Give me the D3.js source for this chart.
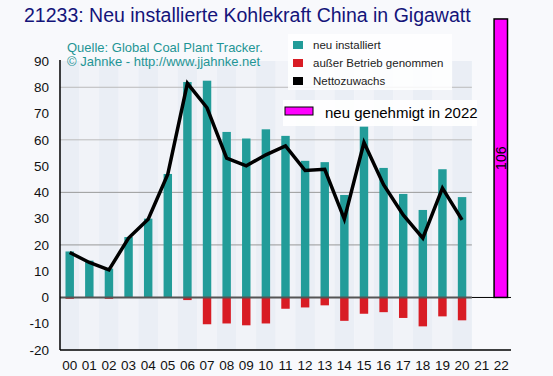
<!DOCTYPE html>
<html>
<head>
<meta charset="utf-8">
<script src="https://cdn.jsdelivr.net/npm/d3@7"></script>
<style>
  html, body { margin: 0; padding: 0; background: #f8f9fc; }
  svg { display: block; font-family: "Liberation Sans", Arial, sans-serif; }
</style>
</head>
<body>
<div id="chart"></div>
<script>
// Werte in GW
const years = ["00","01","02","03","04","05","06","07","08","09","10",
               "11","12","13","14","15","16","17","18","19","20","21","22"];
const installed = [17.5, 14, 11, 23, 30, 47, 82, 82.5, 63, 60.5, 64,
                   61.5, 52, 51.5, 39, 65, 49.3, 39.4, 33.3, 48.8, 38.2];
const retired = [-0.5, 0, -0.5, 0, -0.2, 0, -1, -10.2, -9.9, -10.6, -9.9,
                 -4.3, -3.8, -3, -8.9, -6.2, -5.6, -7.8, -11, -7.2, -8.7];
const net = [17.1, 13.3, 10.5, 22.6, 29.8, 46.9, 81.5, 72.2, 53, 50.1, 54.3,
             57.7, 48.3, 48.8, 29.8, 59, 42.9, 31.4, 22.6, 41.6, 29.5];
const approved = [{ year: "22", value: 106 }];
const yTicks = [-20, -10, 0, 10, 20, 30, 40, 50, 60, 70, 80, 90];
const gridTicks = [20, 40, 60, 80];
const legendItems = [
  { label: "neu installiert", color: "#229c99" },
  { label: "außer Betrieb genommen", color: "#d81c24" },
  { label: "Nettozuwachs", color: "#000" }
];

const width = 553, height = 376;
const svg = d3.select("#chart").append("svg")
  .attr("width", width).attr("height", height);

const x = d3.scaleBand().domain(years).range([60, 511]).paddingInner(0.57).paddingOuter(0.28);
const y = d3.scaleLinear().domain([-20, 90]).range([350, 61]);
const step = x.step();
const gap = (step - x.bandwidth()) / 2;
const plotRight = x(years[20]) + x.bandwidth() + gap;

// gestreifter Hintergrund
svg.append("g").selectAll("rect")
  .data(years.slice(0, 21))
  .join("rect")
  .attr("x", d => x(d) - gap)
  .attr("y", y(90))
  .attr("width", step)
  .attr("height", y(-20) - y(90))
  .attr("fill", (d, i) => i % 2 === 0 ? "#eaeef5" : "#f1f3f8");

// Gitterlinien
svg.append("g").selectAll("line")
  .data(gridTicks)
  .join("line")
  .attr("x1", 60).attr("x2", plotRight)
  .attr("y1", d => y(d)).attr("y2", d => y(d))
  .attr("stroke", d => d >= 60 ? "#bbb" : "#999")
  .attr("stroke-width", 1);

// Quelle
svg.append("text")
  .attr("x", 67).attr("y", 52)
  .attr("fill", "#1f9595").style("font-size", "13px")
  .text("Quelle: Global Coal Plant Tracker.");
svg.append("text")
  .attr("x", 67).attr("y", 66)
  .attr("fill", "#1f9595").style("font-size", "13px")
  .text("© Jahnke - http://www.jjahnke.net");

// Legende
svg.append("rect")
  .attr("x", 288).attr("y", 34).attr("width", 164).attr("height", 56)
  .attr("fill", "#fff").attr("opacity", 0.85);
const leg = svg.append("g").selectAll("g")
  .data(legendItems)
  .join("g")
  .attr("transform", (d, i) => `translate(293,${41 + i * 18})`);
leg.append("rect")
  .attr("width", 10).attr("height", 8)
  .attr("fill", d => d.color);
leg.append("text")
  .attr("x", 20).attr("y", 8)
  .attr("fill", "#222").style("font-size", "11.5px")
  .text(d => d.label);

// installiert
svg.append("g").selectAll("rect")
  .data(installed)
  .join("rect")
  .attr("x", (d, i) => x(years[i]))
  .attr("y", d => y(d))
  .attr("width", x.bandwidth())
  .attr("height", d => y(0) - y(d))
  .attr("fill", "#229c99");

// außer Betrieb
svg.append("g").selectAll("rect")
  .data(retired)
  .join("rect")
  .attr("x", (d, i) => x(years[i]))
  .attr("y", y(0))
  .attr("width", x.bandwidth())
  .attr("height", d => y(d) - y(0))
  .attr("fill", "#d81c24");

// Nulllinie
svg.append("line")
  .attr("x1", 60).attr("x2", plotRight)
  .attr("y1", y(0)).attr("y2", y(0))
  .attr("stroke", "#555").attr("stroke-width", 2);
svg.append("line")
  .attr("x1", plotRight).attr("x2", 511)
  .attr("y1", y(0)).attr("y2", y(0))
  .attr("stroke", "#000").attr("stroke-width", 1);

// Nettozuwachs
svg.append("path")
  .datum(net)
  .attr("d", d3.line().x((d, i) => x(years[i]) + x.bandwidth() / 2).y(d => y(d)))
  .attr("fill", "none")
  .attr("stroke", "#000")
  .attr("stroke-width", 3.5)
  .attr("stroke-linejoin", "miter");

// genehmigt 2022
const ap = svg.append("g").selectAll("g").data(approved).join("g");
ap.append("rect")
  .attr("x", d => x(d.year) - 3)
  .attr("y", d => y(d.value))
  .attr("width", x.bandwidth() + 5)
  .attr("height", d => y(0) - y(d.value))
  .attr("fill", "#ff00ff")
  .attr("stroke", "#000").attr("stroke-width", 1.5);
ap.append("text")
  .attr("transform", d => `translate(${x(d.year) + x.bandwidth() / 2 - 0.5},${(y(d.value) + y(0)) / 2}) rotate(-90)`)
  .attr("text-anchor", "middle")
  .attr("dy", "0.35em")
  .attr("fill", "#000").style("font-size", "14px")
  .text(d => d.value);

svg.append("rect")
  .attr("x", 283).attr("y", 100).attr("width", 194).attr("height", 26)
  .attr("fill", "#fff").attr("opacity", 0.9);
svg.append("rect")
  .attr("x", 285).attr("y", 107).attr("width", 28).attr("height", 8)
  .attr("fill", "#ff00ff").attr("stroke", "#000").attr("stroke-width", 1);
svg.append("text")
  .attr("x", 325).attr("y", 118)
  .attr("fill", "#000").style("font-size", "15px")
  .text("neu genehmigt in " + 2022);

// Achsen
svg.append("line")
  .attr("x1", 60).attr("x2", 60).attr("y1", 60).attr("y2", 350)
  .attr("stroke", "#000").attr("stroke-width", 1.5);
svg.append("line")
  .attr("x1", 60).attr("x2", 511).attr("y1", 350).attr("y2", 350)
  .attr("stroke", "#000").attr("stroke-width", 1.5);

svg.append("g").selectAll("text")
  .data(yTicks)
  .join("text")
  .attr("x", 49).attr("y", d => y(d))
  .attr("dy", "0.35em")
  .attr("text-anchor", "end")
  .attr("fill", "#111").style("font-size", "13.5px")
  .text(d => d);

svg.append("g").selectAll("text")
  .data(years)
  .join("text")
  .attr("x", d => x(d) + x.bandwidth() / 2)
  .attr("y", 370)
  .attr("text-anchor", "middle")
  .attr("fill", "#111").style("font-size", "13.5px")
  .text(d => d);

// Titel
svg.append("text")
  .attr("x", 24).attr("y", 22)
  .attr("fill", "#14147a").style("font-size", "19.5px")
  .text("21233: Neu installierte Kohlekraft China in Gigawatt");
</script>
</body>
</html>
